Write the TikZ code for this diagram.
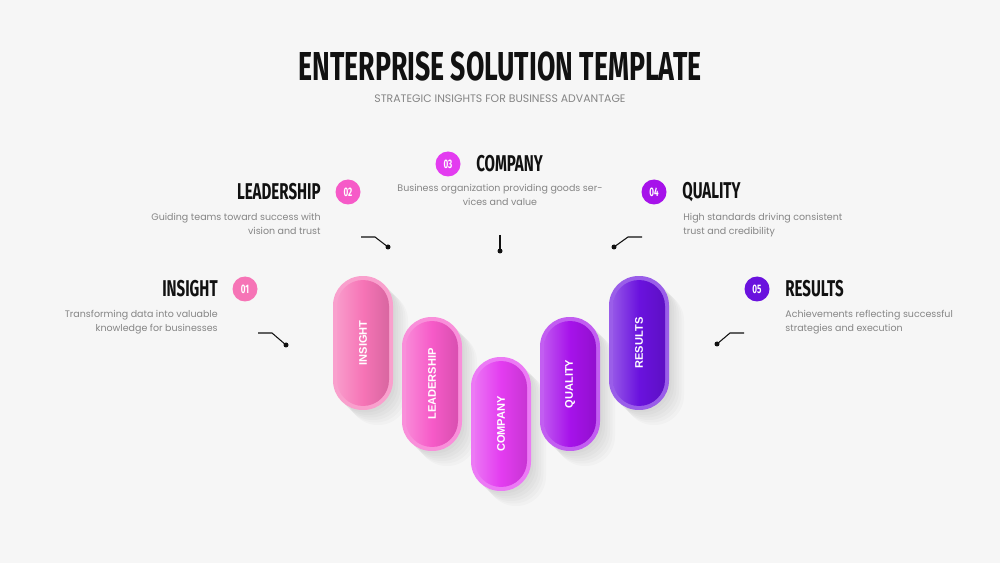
\documentclass[tikz,border=0pt]{standalone}
\usepackage{fontspec}
\setmainfont{Poppins}
\newfontfamily\rotulo[FakeStretch=0.66]{Fira Sans}
\newfontfamily\cuerpo{Liberation Sans}
\usetikzlibrary{positioning,calc}
\definecolor{fondo}{HTML}{F6F6F6}
\definecolor{tinta}{HTML}{111111}
\definecolor{gristxt}{HTML}{858585}
\definecolor{rosa}{HTML}{F674B6}
\definecolor{fucsia}{HTML}{F65AC8}
\definecolor{magenta}{HTML}{E33CF0}
\definecolor{violeta}{HTML}{A612EA}
\definecolor{indigo}{HTML}{6A12DE}
\tikzset{
  titulo/.style     = {font=\rotulo\bfseries\fontsize{23}{25}\selectfont, text=tinta},
  subtitulo/.style  = {font=\fontsize{6.2}{7}\selectfont, text=gristxt},
  encabezado/.style = {font=\rotulo\bfseries\fontsize{13}{15}\selectfont, text=tinta,
                       inner sep=0pt},
  texto/.style      = {font=\fontsize{5.4}{7.7}\selectfont, text=gristxt, inner sep=0pt},
  cifra/.style      = {circle, fill=#1, minimum size=0.5cm, inner sep=0pt, text=white,
                       font=\rotulo\bfseries\fontsize{7}{8}\selectfont},
  sombra/.style     = {rectangle, rounded corners=0.59cm, minimum width=1.2cm,
                       minimum height=2.68cm, inner sep=0pt, fill=black, opacity=0.018},
  borde/.style      = {rectangle, rounded corners=0.59cm, minimum width=1.2cm,
                       minimum height=2.68cm, inner sep=0pt, fill=#1!68!white},
  capsula/.style    = {rectangle, rounded corners=0.52cm, minimum width=1.04cm,
                       minimum height=2.52cm, inner sep=0pt, left color=#1!72!white,
                       right color=#1!88!black, middle color=#1},
  etiqueta/.style   = {font=\cuerpo\bfseries\fontsize{6.3}{7}\selectfont, text=white,
                       rotate=90, inner sep=0pt},
  guia/.style       = {draw=tinta, line width=0.6pt},
  punto/.style      = {circle, fill=tinta, minimum size=1mm, inner sep=0pt},
}

\begin{document}
\begin{tikzpicture}[x=0.02cm, y=-0.02cm]

\fill[fondo] (0,0) rectangle (1000,563);
\useasboundingbox (0,0) rectangle (1000,563);

% =============================================================================
% Cabecera
% =============================================================================
\node[titulo] (tit) at (500,67) {ENTERPRISE SOLUTION TEMPLATE};
\node[subtitulo] (sub) at (500,99) {STRATEGIC INSIGHTS FOR BUSINESS ADVANTAGE};

% =============================================================================
% Capsulas
% =============================================================================
\coordinate (cI) at (363,343);
\coordinate (cL) at (432,384);
\coordinate (cC) at (501,424);
\coordinate (cQ) at (570,384);
\coordinate (cR) at (639,343);

\foreach \c in {cI,cL,cC,cQ,cR}
  \foreach \k in {1,...,6}
    \node[sombra] at ($(\c)+(2.5*\k,2.5*\k)$) {};

\node[borde=rosa]    (bI) at (cI) {};
\node[borde=fucsia]  (bL) at (cL) {};
\node[borde=magenta] (bC) at (cC) {};
\node[borde=violeta] (bQ) at (cQ) {};
\node[borde=indigo]  (bR) at (cR) {};

\node[capsula=rosa]    (pI) at (cI) {};
\node[capsula=fucsia]  (pL) at (cL) {};
\node[capsula=magenta] (pC) at (cC) {};
\node[capsula=violeta] (pQ) at (cQ) {};
\node[capsula=indigo]  (pR) at (cR) {};

\node[etiqueta] (eI) at (pI) {INSIGHT};
\node[etiqueta] (eL) at (pL) {LEADERSHIP};
\node[etiqueta] (eC) at (pC) {COMPANY};
\node[etiqueta] (eQ) at (pQ) {QUALITY};
\node[etiqueta] (eR) at (pR) {RESULTS};

% =============================================================================
% Rotulos y textos
% =============================================================================
\node[encabezado, anchor=east] (hI) at (218,289) {INSIGHT};
\node[cifra=rosa] (nI) at (245,289) {01};
\node[texto, anchor=north east, align=right] (tI) at (218,310)
  {Transforming data into valuable\\knowledge for businesses};

\node[encabezado, anchor=east] (hL) at (321,192) {LEADERSHIP};
\node[cifra=fucsia] (nL) at (348,192) {02};
\node[texto, anchor=north east, align=right] (tL) at (321,213)
  {Guiding teams toward success with\\vision and trust};

\node[cifra=magenta] (nC) at (448,164) {03};
\node[encabezado, anchor=west] (hC) at (476,164) {COMPANY};
\node[texto, anchor=north, align=center] (tC) at (500,184)
  {Business organization providing goods ser-\\vices and value};

\node[cifra=violeta] (nQ) at (654,192) {04};
\node[encabezado, anchor=west] (hQ) at (682,192) {QUALITY};
\node[texto, anchor=north west, align=left] (tQ) at (683,213)
  {High standards driving consistent\\trust and credibility};

\node[cifra=indigo] (nR) at (757,289) {05};
\node[encabezado, anchor=west] (hR) at (785,289) {RESULTS};
\node[texto, anchor=north west, align=left] (tR) at (785,310)
  {Achievements reflecting successful\\strategies and execution};

% =============================================================================
% Guias
% =============================================================================
\coordinate (gI) at (258,333);
\coordinate (gL) at (361,237);
\coordinate (gC) at (500,235);
\coordinate (gQ) at (642,237);
\coordinate (gR) at (744,333);
\node[punto] (dI) at (286,345) {};
\node[punto] (dL) at (388,247) {};
\node[punto] (dC) at (500,251) {};
\node[punto] (dQ) at (614,247) {};
\node[punto] (dR) at (717,344) {};

\draw[guia] (gI) -- ++(14,0) -- (dI.center);
\draw[guia] (gL) -- ++(14,0) -- (dL.center);
\draw[guia] (gC) -- (dC.center);
\draw[guia] (gQ) -- ++(-14,0) -- (dQ.center);
\draw[guia] (gR) -- ++(-14,0) -- (dR.center);

\end{tikzpicture}
\end{document}
